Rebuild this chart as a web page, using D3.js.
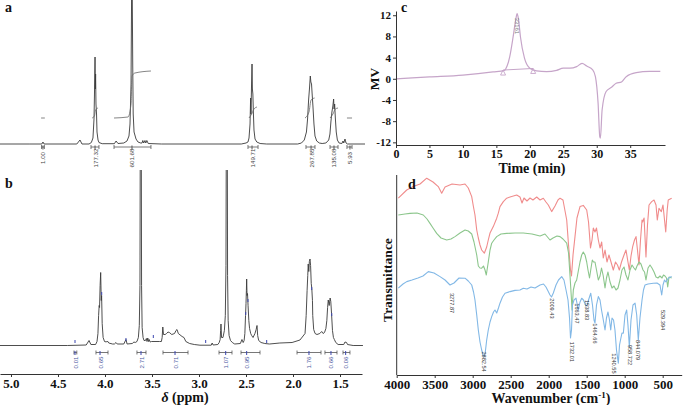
<!DOCTYPE html>
<html><head><meta charset="utf-8">
<script src="https://cdn.jsdelivr.net/npm/d3@7"></script>
<style>body{margin:0;background:#fff}svg{display:block}</style>
</head><body>
<svg id="fig" width="685" height="405"></svg>
<script>
// ---------- DATA ----------
// Panel a: 1H NMR spectrum [ppm, intensity]
const specA = [[5.117,0],[4.80,0],[4.672,0],[4.66,2],[4.648,0],[4.30,0],[4.266,4],[4.245,0],[4.17,0],[4.145,1.5],[4.128,6],[4.117,25],[4.112,50],[4.106,87],[4.103,55],[4.100,70],[4.096,40],[4.090,30],[4.085,12],[4.074,4],[4.064,1.5],[4.03,0.3],[3.90,0.3],[3.882,3],[3.862,0.5],[3.80,1],[3.766,3],[3.745,8],[3.734,20],[3.723,60],[3.717,150],[3.710,150],[3.705,80],[3.700,30],[3.691,12],[3.670,5],[3.649,2],[3.620,1],[3.606,1],[3.598,3.5],[3.588,1],[3.575,3.5],[3.566,1],[3.555,3.5],[3.540,0.5],[3.40,0],[2.55,0],[2.50,1],[2.479,2],[2.468,6],[2.457,20],[2.451,46],[2.447,30],[2.441,60],[2.436,80],[2.432,55],[2.427,50],[2.421,30],[2.415,14],[2.404,5],[2.385,2],[2.35,0.5],[2.28,0],[1.95,0],[1.91,1],[1.88,4],[1.857,12],[1.845,25],[1.834,44],[1.825,55],[1.816,68],[1.810,62],[1.803,60],[1.795,48],[1.788,38],[1.777,20],[1.766,8],[1.748,3],[1.72,1],[1.69,0.5],[1.65,1],[1.62,4],[1.607,10],[1.597,22],[1.586,32],[1.576,38],[1.568,45],[1.563,35],[1.557,40],[1.549,25],[1.540,12],[1.528,4],[1.51,1],[1.48,0.5],[1.468,3],[1.460,1],[1.447,5],[1.436,1],[1.42,0],[1.234,0]];
// Panel a: integral curves
const integA = [
  [[4.68,26],[4.64,26]],
  [[4.138,26],[4.112,28],[4.101,34],[4.074,36]],
  [[3.904,26],[3.755,27],[3.723,40],[3.713,68],[3.681,71],[3.511,73]],
  [[2.468,26],[2.440,30],[2.415,35],[2.383,37]],
  [[1.872,26],[1.830,32],[1.808,44],[1.770,46]],
  [[1.606,26],[1.575,30],[1.550,35],[1.521,36]],
  [[1.426,26],[1.372,26]]
];
// Panel a: integration labels [text, centre ppm, from ppm, to ppm]
const labelsA = [["1.00",4.66,4.675,4.645],["177.32",4.106,4.149,4.064],["601.68",3.713,3.904,3.511],["149.71",2.436,2.479,2.372],["267.85",1.808,1.862,1.766],["135.08",1.564,1.606,1.521],["5.93",1.394,1.426,1.372]];

// Panel b: 1H NMR spectrum [ppm, intensity]
const specB = [[5.117,0],[4.40,0],[4.20,0.5],[4.17,5],[4.15,1],[4.10,1],[4.085,4],[4.075,12],[4.068,30],[4.062,40],[4.058,38],[4.052,60],[4.046,73],[4.040,45],[4.036,50],[4.030,22],[4.020,8],[4.005,4],[3.985,3.5],[3.975,4.5],[3.96,2.5],[3.92,1.5],[3.90,1.5],[3.883,3],[3.87,1.5],[3.80,1.5],[3.777,6],[3.765,1.5],[3.71,2],[3.692,3.5],[3.678,3],[3.660,4],[3.645,8],[3.635,20],[3.628,60],[3.625,200],[3.614,200],[3.611,60],[3.605,18],[3.595,8],[3.585,5],[3.570,5],[3.560,7],[3.553,4],[3.545,7.5],[3.537,4],[3.530,6],[3.520,3.5],[3.505,4],[3.42,4],[3.40,4],[3.392,8],[3.385,18.5],[3.378,11],[3.36,11],[3.345,12],[3.330,13.5],[3.315,13],[3.29,11],[3.26,12],[3.245,15],[3.234,16],[3.220,12],[3.18,9],[3.16,8],[3.14,4],[3.10,2],[3.05,1],[2.99,0.3],[2.87,0.3],[2.86,2.5],[2.85,0.5],[2.80,1],[2.785,3],[2.775,6],[2.770,15],[2.766,21.5],[2.760,8],[2.745,8],[2.730,15],[2.720,30],[2.713,80],[2.710,200],[2.699,200],[2.696,70],[2.690,25],[2.680,10],[2.665,5],[2.645,3],[2.638,2.5],[2.62,1.5],[2.56,2],[2.543,6],[2.53,3],[2.52,5],[2.512,12],[2.505,30],[2.500,42],[2.496,55],[2.493,66.5],[2.489,50],[2.484,52],[2.478,40],[2.470,25],[2.462,17],[2.450,12],[2.440,10],[2.425,8],[2.405,12],[2.392,16],[2.383,20],[2.376,10],[2.365,5],[2.34,3],[2.30,2],[2.25,1.5],[2.14,2.5],[2.01,3],[1.926,5.5],[1.872,12],[1.860,30],[1.850,55],[1.843,70],[1.838,81.5],[1.832,74],[1.826,84],[1.819,86.5],[1.813,80],[1.806,62],[1.800,57],[1.793,45],[1.790,30],[1.780,16],[1.765,12],[1.745,11],[1.715,12],[1.695,14],[1.680,12],[1.665,13],[1.650,17],[1.640,25],[1.632,38],[1.625,45.5],[1.615,40],[1.605,47.5],[1.598,44],[1.590,32],[1.580,15],[1.570,8],[1.560,6],[1.545,3],[1.52,1],[1.46,1],[1.447,3.5],[1.43,3],[1.42,1],[1.36,0],[1.256,0]];
// Panel b: peak-pick markers [ppm, intensity]
const picksB = [[4.319,4],[4.035,52],[3.777,6],[3.486,9],[2.929,4],[2.503,32],[2.479,45],[2.280,4],[1.801,57],[1.588,31]];
// Panel b: integration labels
const labelsB = [["0.01",4.319,4.33,4.30],["0.65",4.053,4.096,3.968],["2.71",3.617,3.660,3.564],["0.71",3.255,3.383,3.117],["1.07",2.716,2.787,2.649],["0.95",2.493,2.553,2.351],["1.76",1.830,1.957,1.702],["0.66",1.596,1.660,1.532],["0.06",1.440,1.468,1.394]];
const ppmTicks = [5.0,4.5,4.0,3.5,3.0,2.5,2.0,1.5];

// Panel c: GPC trace [time min, MV]
const gpc = [[0,0],[5,0.35],[10,0.7],[14.5,1.3],[16.2,1.6],[16.6,2.4],[17.0,4.2],[17.5,7.9],[17.9,11.2],[18.1,12.3],[18.3,11.3],[18.6,7.9],[19.2,3.9],[20.0,2.0],[21.0,1.5],[22.5,1.35],[24.0,1.6],[25.0,2.0],[26.0,2.0],[27.0,2.3],[27.8,2.9],[28.5,2.4],[29.4,1.7],[29.8,0.4],[30.2,-4.6],[30.45,-10.9],[30.55,-11.2],[30.8,-5.9],[31.4,-2.4],[32.2,-1.6],[32.9,-0.85],[33.7,-0.6],[34.4,0.4],[35.9,1.15],[37.9,1.4],[39.5,1.4]];
const gpcBase = [[16.0,1.65],[20.5,1.95]];
const gpcPeak = {t:18.1, mv:10, label:"33161"};
const mvTicks = [-12,-8,-4,0,4,8,12];
const timeTicks = [0,5,10,15,20,25,30,35];

// Panel d: FTIR spectra [wavenumber, transmittance]
const irRed = [[3979,88.4],[3868,92.5],[3782,94.2],[3693,95.5],[3605,98.4],[3522,96.5],[3453,94.2],[3408,90.9],[3364,94],[3272,95.5],[3167,95],[3101,95.5],[3058,93.5],[3013,89.2],[2992,84.5],[2970,80],[2947,72.5],[2926,68.5],[2904,65],[2882,62.5],[2847,60.9],[2816,64],[2795,67.5],[2772,71],[2729,74.2],[2684,78.4],[2663,80.9],[2641,84.2],[2597,86.7],[2553,88.4],[2509,89],[2421,90],[2378,89],[2351,86],[2325,88.5],[2286,87],[2246,88.5],[2207,87.5],[2158,89],[2114,87.5],[2071,88.4],[2036,86.5],[2005,85],[1961,81.7],[1917,84.5],[1878,87.5],[1851,88.4],[1812,87.5],[1763,77.5],[1739,65],[1713,52.5],[1700,49.5],[1680,60],[1654,69.2],[1628,78.5],[1588,84.2],[1545,84.8],[1500,82.5],[1476,76.5],[1450,63.5],[1430,67.5],[1413,73.5],[1391,71.5],[1371,73.5],[1347,67.5],[1325,63.5],[1303,66.5],[1282,58.5],[1259,62.5],[1233,56.5],[1207,60],[1180,56.5],[1150,52.5],[1121,56.5],[1095,55],[1071,52.5],[1042,56.5],[1009,60],[983,62.5],[957,56.5],[939,52.5],[917,59.5],[895,64.2],[871,67.5],[851,69.2],[832,62.5],[812,55],[792,67.5],[772,77.5],[764,76.5],[745,78.5],[720,59],[700,75],[680,85],[645,86.7],[614,87.5],[588,85],[571,77.5],[549,83.3],[518,81.7],[496,85],[460,71.5],[441,82.5],[427,87.5],[382,88.4]];
const irGreen = [[3979,80],[3891,80.5],[3825,80.8],[3733,81],[3650,80],[3601,78],[3562,75.8],[3522,73.5],[3474,70.8],[3417,68.5],[3342,67.5],[3286,68],[3233,69.2],[3167,71],[3101,72.5],[3058,72],[3013,70.5],[2983,66.5],[2947,60],[2926,54.5],[2904,53.5],[2882,53.4],[2858,54.5],[2838,52.5],[2821,50],[2795,56.5],[2772,62.5],[2750,65.9],[2720,67.5],[2684,69.2],[2628,70.5],[2553,70.8],[2443,71],[2334,71],[2220,70.5],[2114,69.5],[2049,70.5],[1983,67.5],[1943,68.5],[1891,69.5],[1851,69.2],[1812,68],[1763,65.9],[1739,61],[1720,50],[1700,37.5],[1693,32.5],[1676,42.5],[1654,46],[1632,47.5],[1608,52.5],[1588,56.5],[1566,60],[1545,61.5],[1522,60],[1500,56.5],[1483,52.5],[1463,48.5],[1443,53.5],[1426,57.5],[1411,56.5],[1391,56.5],[1371,52.5],[1347,47.5],[1325,49.5],[1305,53.5],[1282,49.5],[1259,43.5],[1240,48.5],[1220,51.5],[1193,46.5],[1167,43.5],[1141,44.5],[1114,42.5],[1088,43.5],[1062,47.5],[1036,52.5],[1009,54],[983,50],[957,47.5],[930,52.5],[904,55],[878,53.5],[858,52.5],[838,54.5],[812,56.5],[786,55.5],[759,52.5],[739,51.5],[720,47.5],[693,53.5],[667,55],[641,53.5],[614,51.5],[588,49],[562,48.5],[536,49.5],[509,48.5],[490,50],[470,49.5],[450,48.5],[434,44],[417,49],[382,48.5]];
const irBlue = [[3979,43.4],[3917,45.5],[3868,46.7],[3799,47.5],[3720,48.5],[3654,49.5],[3584,51.7],[3509,51],[3430,49.2],[3364,47.5],[3299,45],[3246,46],[3180,48.5],[3101,48.4],[3058,47],[3013,45],[2989,41.5],[2970,37.5],[2947,30],[2926,22.5],[2904,16.5],[2882,12.5],[2864,10],[2851,9.2],[2834,11.5],[2816,17.5],[2795,22.5],[2772,26.5],[2750,29.2],[2726,31.5],[2707,32.5],[2684,31],[2661,33.5],[2641,35.9],[2608,39],[2575,40.9],[2509,41.7],[2443,42.3],[2378,42.5],[2334,43.4],[2286,43],[2233,44],[2180,43.5],[2114,45],[2068,45.5],[2036,44],[2009,42],[1983,40],[1963,39],[1939,41],[1904,45],[1871,47.5],[1829,49.2],[1799,47.5],[1772,42.5],[1746,37.5],[1726,28.5],[1713,18.5],[1700,22.5],[1687,35],[1667,37.5],[1641,38.4],[1611,32.5],[1588,36.5],[1566,38.4],[1543,37.5],[1516,35],[1497,34.5],[1476,37.5],[1447,40.9],[1424,35],[1404,27.5],[1391,25.9],[1371,35],[1347,39.2],[1325,37.5],[1305,32.5],[1286,28.5],[1259,22.5],[1240,28.5],[1220,31.5],[1200,27.5],[1184,22.5],[1167,28.5],[1147,27.5],[1128,22.5],[1108,12.5],[1084,5.9],[1068,15],[1055,17.5],[1036,21],[1018,20.9],[996,30],[974,32.5],[957,25],[939,14.2],[917,27.5],[891,35],[864,35.9],[842,30],[821,17.5],[799,28.5],[772,37.5],[753,42.5],[733,45],[693,45.5],[624,45.9],[575,46],[536,45],[513,40],[496,45],[476,47.5],[457,46.5],[427,48.4],[382,49.2]];
// Panel d: band labels [text, wavenumber position, transmittance position]
const irLabels = [["3277.87",3276,36],["2882.54",2851,6.7],["2009.43",1953,33.3],["1732.01",1689,11.6],["1663.47",1624,30.8],["1538.83",1500,32.5],["1464.66",1391,20.8],["1240.55",1141,5.8],["958.722",930,10],["844.079",821,12.5],["529.394",500,27.5]];
const wnTicks = [4000,3500,3000,2500,2000,1500,1000,500];

// ---------- DRAW ----------
const serif = "'Liberation Serif','Times New Roman',serif";
const svg = d3.select("#fig");
const defs = svg.append("defs");
defs.append("clipPath").attr("id","clipA").append("rect").attr("x",0).attr("y",0).attr("width",370).attr("height",146);
defs.append("clipPath").attr("id","clipB").append("rect").attr("x",0).attr("y",170).attr("width",370).attr("height",180);

const xN = d3.scaleLinear().domain([5.117,1.266]).range([0,362]);
const yA = d3.scaleLinear().domain([0,144]).range([144,0]);
const yB = d3.scaleLinear().domain([0,175.5]).range([345.5,170]);

function letter(t,x,y){ svg.append("text").attr("x",x).attr("y",y).text(t).attr("font-family",serif).attr("font-weight","bold").attr("font-size",14).attr("fill","#111"); }

// Panel a
const gA = svg.append("g");
gA.append("path").datum(specA).attr("clip-path","url(#clipA)")
  .attr("d", d3.line().x(d=>xN(d[0])).y(d=>yA(d[1])))
  .attr("fill","none").attr("stroke","#3a3a3a").attr("stroke-width",0.9);
integA.forEach(seg=>{
  gA.append("path").datum(seg).attr("d", d3.line().x(d=>xN(d[0])).y(d=>yA(d[1])).curve(d3.curveMonotoneX))
    .attr("fill","none").attr("stroke","#666").attr("stroke-width",0.8);
});
function brackets(g, list, yLine, yText, tickColor, textColor){
  list.forEach(([t,c,a,b])=>{
    const x1=xN(a), x2=xN(b), xc=xN(c);
    g.append("line").attr("x1",x1).attr("x2",x2).attr("y1",yLine).attr("y2",yLine).attr("stroke","#555").attr("stroke-width",0.8);
    [x1,x2].forEach(x=>g.append("line").attr("x1",x).attr("x2",x).attr("y1",yLine-2).attr("y2",yLine+2).attr("stroke","#555").attr("stroke-width",0.8));
    g.append("line").attr("x1",xc).attr("x2",xc).attr("y1",yLine-1.5).attr("y2",yLine+2.5).attr("stroke",tickColor).attr("stroke-width",1);
    g.append("text").attr("transform",`translate(${xc},${yText}) rotate(-90)`)
      .attr("text-anchor","middle").attr("dominant-baseline","central")
      .attr("font-family","'Liberation Sans',Arial,sans-serif").attr("font-size",6.2).attr("fill",textColor).text(t);
  });
}
brackets(gA, labelsA, 147, 158, "#555", "#444");
letter("a",5,12);

// Panel b
const gB = svg.append("g");
gB.append("path").datum(specB).attr("clip-path","url(#clipB)")
  .attr("d", d3.line().x(d=>xN(d[0])).y(d=>yB(d[1])))
  .attr("fill","none").attr("stroke","#3a3a3a").attr("stroke-width",0.9);
picksB.forEach(([p,i])=>{
  gB.append("line").attr("x1",xN(p)).attr("x2",xN(p)).attr("y1",yB(i)-1.5).attr("y2",yB(i)+1.5).attr("stroke","#3b46b0").attr("stroke-width",1);
});
brackets(gB, labelsB, 352.5, 362.5, "#3b46b0", "#4a58a0");
const axB = gB.append("g").attr("transform","translate(0,374)")
  .call(d3.axisBottom(xN).tickValues(ppmTicks).tickFormat(d3.format(".1f")).tickSizeInner(3).tickSizeOuter(0).tickPadding(2));
axB.selectAll("text").attr("font-family",serif).attr("font-weight","bold").attr("font-size",13).attr("fill","#111");
axB.selectAll("line,path").attr("stroke","#333");
const lb = gB.append("text").attr("x",185).attr("y",402).attr("text-anchor","middle").attr("font-family",serif).attr("font-weight","bold").attr("font-size",14).attr("fill","#111");
lb.append("tspan").attr("font-style","italic").text("δ");
lb.append("tspan").text(" (ppm)");
letter("b",5,188);

// Panel c
const xC = d3.scaleLinear().domain([0,40.2]).range([396,665]);
const yC = d3.scaleLinear().domain([-12.5,12.8]).range([145,11]);
const gC = svg.append("g");
const purple = "#c6a5c9";
gC.append("path").datum(gpc).attr("d", d3.line().x(d=>xC(d[0])).y(d=>yC(d[1])).curve(d3.curveMonotoneX))
  .attr("fill","none").attr("stroke",purple).attr("stroke-width",1.2);
gC.append("path").datum(gpcBase).attr("d", d3.line().x(d=>xC(d[0])).y(d=>yC(d[1])))
  .attr("fill","none").attr("stroke",purple).attr("stroke-width",1);
gpcBase.forEach(([t,v])=>{
  const x=xC(t), y=yC(v);
  gC.append("path").attr("d",`M${x},${y} L${x-2.5},${y+5} L${x+2.5},${y+5} Z`).attr("fill","none").attr("stroke",purple).attr("stroke-width",0.9);
});
gC.append("text").attr("transform",`translate(${xC(gpcPeak.t)},${yC(gpcPeak.mv)}) rotate(90)`)
  .attr("text-anchor","middle").attr("dominant-baseline","central")
  .attr("font-family","'Liberation Sans',Arial,sans-serif").attr("font-size",6).attr("fill","#777").text(gpcPeak.label);
const axCy = gC.append("g").attr("transform","translate(396,0)")
  .call(d3.axisLeft(yC).tickValues(mvTicks).tickFormat(d=>String(d)).tickSizeInner(3).tickSizeOuter(0).tickPadding(2));
const axCx = gC.append("g").attr("transform","translate(0,145)")
  .call(d3.axisBottom(xC).tickValues(timeTicks).tickFormat(d=>String(d)).tickSizeInner(3).tickSizeOuter(0).tickPadding(1));
axCy.selectAll("text").attr("font-family",serif).attr("font-weight","bold").attr("font-size",11).attr("fill","#111");
axCx.selectAll("text").attr("font-family",serif).attr("font-weight","bold").attr("font-size",12).attr("fill","#111");
[axCy,axCx].forEach(a=>a.selectAll("line,path").attr("stroke","#333"));
gC.append("text").attr("transform","translate(374,79) rotate(-90)").attr("text-anchor","middle").attr("dominant-baseline","central")
  .attr("font-family",serif).attr("font-weight","bold").attr("font-size",13.5).attr("fill","#111").text("MV");
gC.append("text").attr("x",532).attr("y",173).attr("text-anchor","middle")
  .attr("font-family",serif).attr("font-weight","bold").attr("font-size",14).attr("fill","#111").text("Time (min)");
letter("c",401,12);

// Panel d
const xD = d3.scaleLinear().domain([4000,250]).range([396.7,681.7]);
const yD = d3.scaleLinear().domain([0,100]).range([375,175]);
const gD = svg.append("g");
[[irRed,"#f08c8c"],[irGreen,"#8cc68c"],[irBlue,"#82b8e6"]].forEach(([data,col])=>{
  gD.append("path").datum(data).attr("d", d3.line().x(d=>xD(d[0])).y(d=>yD(d[1])))
    .attr("fill","none").attr("stroke",col).attr("stroke-width",1.1).attr("stroke-linejoin","round");
});
irLabels.forEach(([t,w,v])=>{
  gD.append("text").attr("transform",`translate(${xD(w)},${yD(v)}) rotate(90)`)
    .attr("text-anchor","middle").attr("dominant-baseline","central")
    .attr("font-family","'Liberation Sans',Arial,sans-serif").attr("font-size",5.6).attr("fill","#333").text(t);
});
gD.append("line").attr("x1",xD(4000)).attr("x2",xD(4000)).attr("y1",yD(100)).attr("y2",yD(0)).attr("stroke","#333").attr("stroke-width",1);
const axD = gD.append("g").attr("transform","translate(0,375)")
  .call(d3.axisBottom(xD).tickValues(wnTicks).tickFormat(d=>String(d)).tickSizeInner(3).tickSizeOuter(0).tickPadding(2));
axD.selectAll("text").attr("font-family",serif).attr("font-weight","bold").attr("font-size",13).attr("fill","#111");
axD.selectAll("line,path").attr("stroke","#333");
const wl = gD.append("text").attr("x",551).attr("y",403).attr("text-anchor","middle")
  .attr("font-family",serif).attr("font-weight","bold").attr("font-size",14).attr("fill","#111");
wl.append("tspan").text("Wavenumber (cm");
wl.append("tspan").attr("font-size",9).attr("dy",-5).text("-1");
wl.append("tspan").attr("dy",5).text(")");
gD.append("text").attr("transform","translate(387,280) rotate(-90)").attr("text-anchor","middle").attr("dominant-baseline","central")
  .attr("font-family",serif).attr("font-weight","bold").attr("font-size",13.5).attr("fill","#111").text("Transmittance");
letter("d",408,189);
</script>
</body></html>
